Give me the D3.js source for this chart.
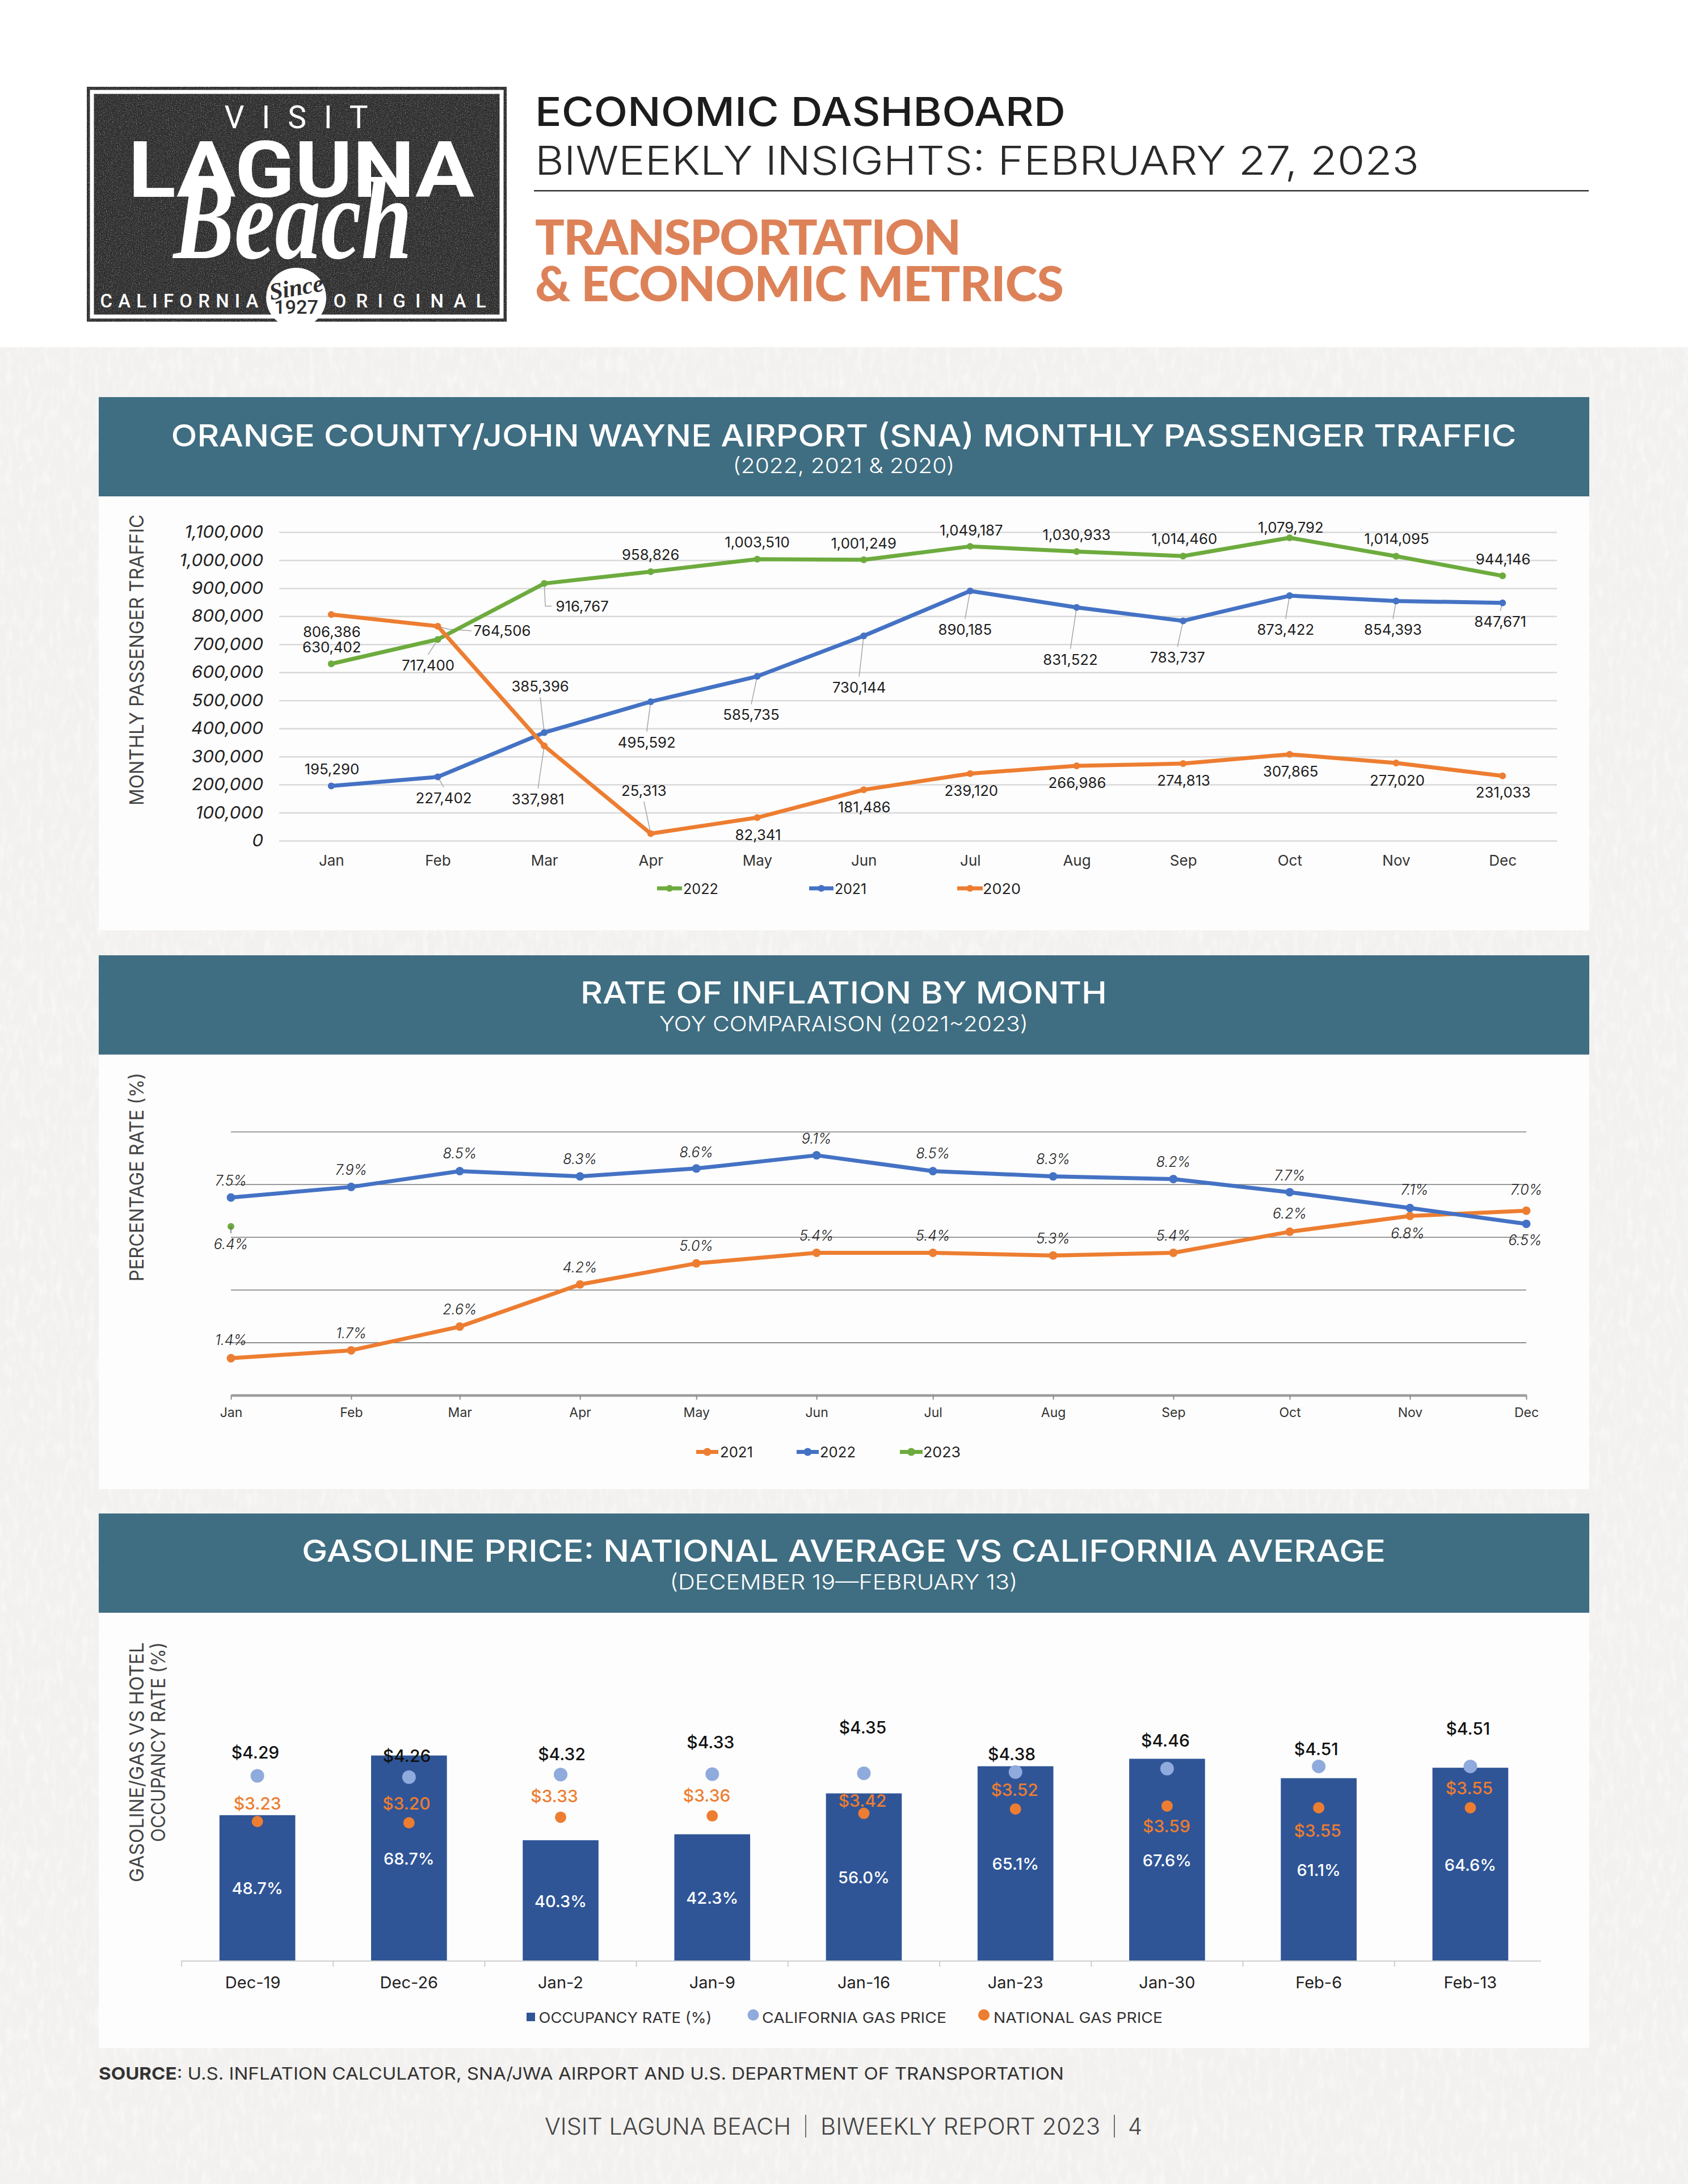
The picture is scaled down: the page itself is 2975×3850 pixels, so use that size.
<!DOCTYPE html>
<html><head><meta charset="utf-8">
<script src="https://cdn.jsdelivr.net/npm/d3@7"></script>
<style>html,body{margin:0;padding:0;background:#fff}svg{display:block}text{font-family:Inter,"Noto Sans",sans-serif}</style>
</head><body><div id="chart"></div>
<script>
// ---- Airport traffic ----
const months = ["Jan","Feb","Mar","Apr","May","Jun","Jul","Aug","Sep","Oct","Nov","Dec"];
const pax2022 = [630402,717400,916767,958826,1003510,1001249,1049187,1030933,1014460,1079792,1014095,944146];
const pax2021 = [195290,227402,385396,495592,585735,730144,890185,831522,783737,873422,854393,847671];
const pax2020 = [806386,764506,337981,25313,82341,181486,239120,266986,274813,307865,277020,231033];
const paxTicks = [0,100000,200000,300000,400000,500000,600000,700000,800000,900000,1000000,1100000];
// label offsets from the point: [dx, dy, leader] (leader 1 = straight, 2 = elbow)
const pax2022Lab = [[1,-29],[-17,46,1],[67,40,2],[0,-30],[0,-30],[0,-29],[2,-28],[0,-29],[2,-30],[2,-17.5],[1,-30],[1,-29.5]];
const pax2021Lab = [[1,-29],[10.5,37,1],[-7,-81,1],[-7,72,1],[-10.5,68,1],[-8,91,1],[-9,68,1],[-11,92,1],[-10,65,1],[-7,60,1],[-5.5,50.5,1],[-4,33,1]];
const pax2020Lab = [[1,31],[113.5,8,2],[-11,94,1],[-12,-75.5,1],[1.5,31],[1,31],[2,30],[1,30],[1,30],[2,30],[2,31],[1,29]];
// ---- Inflation ----
const cpiMonths = months.map((m,i)=>new Date(2021,i,1));
const cpi2021 = [1.4,1.7,2.6,4.2,5.0,5.4,5.4,5.3,5.4,6.2,6.8,7.0];
const cpi2022 = [7.5,7.9,8.5,8.3,8.6,9.1,8.5,8.3,8.2,7.7,7.1,6.5];
const cpi2023 = [6.4];
const cpiGrid = [2,4,6,8,10];
const cpi2021Lab = [[0,-32],[0,-30],[0,-31],[0,-30],[0,-31],[0,-30.5],[0,-30.5],[0,-30],[0,-30.5],[0,-32],[-4,31],[0,-37.5]];
const cpi2022Lab = [[0,-30],[0,-30],[0,-31],[0,-31],[0,-29],[0,-30],[0,-31],[0,-31],[0,-30],[0,-30],[8,-33],[-2,29]];
const cpi2023Lab = [[0,31]];
// ---- Gas / occupancy ----
const weeks = ["Dec-19","Dec-26","Jan-2","Jan-9","Jan-16","Jan-23","Jan-30","Feb-6","Feb-13"];
const occupancy = [48.7,68.7,40.3,42.3,56.0,65.1,67.6,61.1,64.6];
const gasCA = [4.29,4.26,4.32,4.33,4.35,4.38,4.46,4.51,4.51];
const gasUS = [3.23,3.20,3.33,3.36,3.42,3.52,3.59,3.55,3.55];
const gasCALab = [[-3.6,-41.6],[-3.8,-37.8],[2,-36],[-3,-56.5],[-2,-81],[-6.6,-31.7],[-3,-50],[-4.4,-31],[-4,-67]];
const gasUSLab = [[0,-32],[-4.4,-34],[-11,-37.4],[-9.7,-36],[-2.4,-22.6],[-1.6,-34],[-1,35],[-2,40],[-2,-35]];
const weekNudge = [-8,0,0,0,0,0,0,0,0];

const C = {green:"#6dab3e", blue:"#4472c4", orange:"#ed7d31", teal:"#3f6e82", bar:"#2f5597", ca:"#8faadc", ink:"#222"};
const svg = d3.select("#chart").append("svg").attr("width",2975).attr("height",3850).attr("viewBox","0 0 2975 3850");
const defs = svg.append("defs");
const f1 = defs.append("filter").attr("id","paper").attr("x",0).attr("y",0).attr("width","100%").attr("height","100%");
f1.append("feTurbulence").attr("type","fractalNoise").attr("baseFrequency","0.09 0.035").attr("numOctaves",3).attr("seed",4);
f1.append("feColorMatrix").attr("values","0 0 0 0 1  0 0 0 0 1  0 0 0 0 1  1.1 0 0 0 -0.5");
const f2 = defs.append("filter").attr("id","chalk").attr("x",0).attr("y",0).attr("width","100%").attr("height","100%");
f2.append("feTurbulence").attr("type","fractalNoise").attr("baseFrequency","0.55").attr("numOctaves",3).attr("seed",7);
f2.append("feColorMatrix").attr("values","0 0 0 0 1  0 0 0 0 1  0 0 0 0 1  0.6 0.6 0 0 -0.56");

function stretch(sel,k){
  sel.each(function(){
    const w=this.getComputedTextLength();
    d3.select(this).attr("textLength",w*k).attr("lengthAdjust","spacingAndGlyphs");
  });
}
function txt(g,x,y,s,o={}){
  const t=g.append("text").attr("x",x).attr("y",y).text(s)
    .attr("text-anchor",o.anchor||"middle").attr("font-size",o.size||24)
    .attr("font-weight",o.weight||400).attr("fill",o.fill||C.ink);
  if(o.central!==false) t.attr("dominant-baseline","central");
  if(o.italic) t.attr("font-style","italic");
  if(o.family) t.style("font-family",o.family);
  if(o.len) t.attr("textLength",o.len).attr("lengthAdjust",o.adjust||"spacingAndGlyphs");
  if(o.k) stretch(t,o.k);
  if(o.tf) t.attr("transform",o.tf);
  return t;
}
function rotTxt(g,x,y,s,o){ return txt(g,x,y,s,Object.assign({tf:`rotate(-90 ${x} ${y})`,fill:"#444",size:34,weight:400},o)); }

// page background
svg.append("rect").attr("width",2975).attr("height",3850).attr("fill","#fff");
svg.append("rect").attr("y",612).attr("width",2975).attr("height",3238).attr("fill","#f2f1ef");
svg.append("rect").attr("y",612).attr("width",2975).attr("height",3238).attr("filter","url(#paper)");

// logo
const logo = svg.append("g");
logo.append("rect").attr("x",153).attr("y",153).attr("width",740).attr("height",414).attr("fill","#2c2c2c");
logo.append("rect").attr("x",153).attr("y",153).attr("width",740).attr("height",414).attr("filter","url(#chalk)");
logo.append("rect").attr("x",162).attr("y",162).attr("width",722).attr("height",396).attr("fill","none").attr("stroke","#fff").attr("stroke-width",7);
const lg = {fill:"#fff",central:false,family:"Roboto"};
txt(logo,522,226,"VISIT",{...lg,size:55,weight:400,len:253,adjust:"spacing"});
txt(logo,531,347,"LAGUNA",{...lg,size:138,weight:700,len:610});
txt(logo,516,455,"Beach",{fill:"#fff",central:false,family:"'Liberation Serif'",italic:true,size:205,weight:700,len:421});
txt(logo,316,542,"CALIFORNIA",{...lg,size:33,weight:500,len:279,adjust:"spacing"});
txt(logo,722,542,"ORIGINAL",{...lg,size:33,weight:500,len:269,adjust:"spacing"});
logo.append("circle").attr("cx",522).attr("cy",525).attr("r",53).attr("fill","#fff");
txt(logo,522,507,"Since",{fill:"#2f2f2f",family:"'Liberation Serif'",italic:true,size:42,weight:700,tf:"rotate(-10 522 507)"});
txt(logo,522,541,"1927",{fill:"#2f2f2f",family:"Roboto",size:33,weight:500,len:78});

// page heading
const head = svg.append("g");
txt(head,943,222,"ECONOMIC DASHBOARD",{anchor:"start",central:false,size:70,weight:500,fill:"#1c1c1c",len:935});
txt(head,943,308,"BIWEEKLY INSIGHTS: FEBRUARY 27, 2023",{anchor:"start",central:false,size:70,weight:300,fill:"#2a2a2a",len:1558});
head.append("rect").attr("x",941).attr("y",335).attr("width",1859).attr("height",2.5).attr("fill","#333");
const heavy={anchor:"start",central:false,size:86,weight:900,fill:"#dd8258",family:"Lato",adjust:"spacing"};
txt(head,943,449,"TRANSPORTATION",{...heavy,len:751});
txt(head,943,531,"& ECONOMIC METRICS",{...heavy,len:932});

// section frames
[[700,1640,767,820,"ORANGE COUNTY/JOHN WAYNE AIRPORT (SNA) MONTHLY PASSENGER TRAFFIC",2371,"(2022, 2021 & 2020)",391],
 [1684,2625,1749,1804,"RATE OF INFLATION BY MONTH",928,"YOY COMPARAISON (2021~2023)",650],
 [2668,3610,2733,2788,"GASOLINE PRICE: NATIONAL AVERAGE VS CALIFORNIA AVERAGE",1910,"(DECEMBER 19—FEBRUARY 13)",613]
].forEach(([top,bot,ty,sy,t,tl,s,sl])=>{
  svg.append("rect").attr("x",174).attr("y",top).attr("width",2627).attr("height",bot-top).attr("fill","#fdfdfd");
  svg.append("rect").attr("x",174).attr("y",top).attr("width",2627).attr("height",175).attr("fill",C.teal);
  txt(svg,1487,ty,t,{size:54,weight:500,fill:"#fff",len:tl});
  txt(svg,1487,sy,s,{size:37,weight:300,fill:"#fff",len:sl});
});

function lineSeries(g,data,x,y,color,lw,r,xkey){
  const pts=data.map((v,i)=>({v,i,px:x(xkey[i]),py:y(v)}));
  const line=d3.line().x(d=>d.px).y(d=>d.py);
  g.append("path").datum(pts).attr("d",line).attr("fill","none").attr("stroke",color).attr("stroke-width",lw).attr("stroke-linejoin","round");
  g.selectAll(null).data(pts).join("circle").attr("cx",d=>d.px).attr("cy",d=>d.py).attr("r",r).attr("fill",color);
  return pts;
}
function legendLine(g,x0,x1,y,color,label,textX,textLen,r){
  g.append("line").attr("x1",x0).attr("x2",x1).attr("y1",y).attr("y2",y).attr("stroke",color).attr("stroke-width",7);
  g.append("circle").attr("cx",(x0+x1)/2).attr("cy",y).attr("r",r).attr("fill",color);
  txt(g,textX,y,label,{anchor:"start",size:26,len:textLen});
}

// ===== Chart 1 =====
{
  const g=svg.append("g");
  const x=d3.scalePoint().domain(months).range([490,2742]).padding(0.5);
  const y=d3.scaleLinear().domain([0,1100000]).range([1482,938]);
  const ax=g.append("g").attr("transform","translate(492,0)").call(d3.axisLeft(y).tickValues(paxTicks).tickSize(-2252).tickPadding(28).tickFormat(d3.format(",")));
  ax.select(".domain").remove();
  ax.selectAll("line").attr("stroke","#d9d9d9").attr("stroke-width",2.5);
  ax.selectAll("text").attr("font-size",30).attr("fill","#222").attr("font-style","italic").style("font-family","Inter").call(stretch,1.05);
  const bx=g.append("g").attr("transform","translate(0,1482)").call(d3.axisBottom(x).tickSize(0).tickPadding(26));
  bx.select(".domain").remove();
  bx.selectAll("text").attr("font-size",26).attr("fill","#333").style("font-family","Inter");
  rotTxt(g,240,1163.5,"MONTHLY PASSENGER TRAFFIC",{len:513});
  const leaders=g.append("g"), marks=g.append("g"), labels=g.append("g");
  [[pax2022,C.green,pax2022Lab],[pax2021,C.blue,pax2021Lab],[pax2020,C.orange,pax2020Lab]].forEach(([data,col,lab])=>{
    const pts=lineSeries(marks,data,x,y,col,7,6,months);
    pts.forEach(p=>{
      const [dx,dy,k]=lab[p.i], lx=p.px+dx, ly=p.py+dy;
      txt(labels,lx,ly,d3.format(",")(p.v),{size:25,fill:"#1c1c1c",k:1.03});
      if(k===1){
        leaders.append("path").attr("d",d3.line()([[p.px,p.py],[lx,ly-Math.sign(dy)*19]])).attr("stroke","#a6a6a6").attr("stroke-width",1.5).attr("fill","none");
      } else if(k===2){
        const tip=[lx-54,ly];
        const mid= Math.abs(dy)>20 ? [p.px+2,ly] : [p.px+18,p.py+5];
        leaders.append("path").attr("d",d3.line()([[p.px,p.py],mid,tip])).attr("stroke","#a6a6a6").attr("stroke-width",1.5).attr("fill","none");
      }
    });
  });
  legendLine(g,1158,1202,1566,C.green,"2022",1204,62,6);
  legendLine(g,1426,1469,1566,C.blue,"2021",1471,56,6);
  legendLine(g,1687,1732,1566,C.orange,"2020",1732,67,6);
}

// ===== Chart 2 =====
{
  const g=svg.append("g");
  const x=d3.scaleTime().domain([cpiMonths[0],cpiMonths[11]]).range([407,2690]);
  const y=d3.scaleLinear().domain([0,10]).range([2459.4,1994.8]);
  const gr=g.append("g").attr("transform","translate(407,0)").call(d3.axisLeft(y).tickValues(cpiGrid).tickSize(-2283).tickFormat(""));
  gr.select(".domain").remove();
  gr.selectAll("line").attr("stroke","#8c8c8c").attr("stroke-width",1.8);
  const bx=g.append("g").attr("transform","translate(0,2459.4)").call(d3.axisBottom(x).tickValues(cpiMonths).tickSize(8).tickSizeOuter(0).tickPadding(14).tickFormat(d3.timeFormat("%b")));
  bx.select(".domain").attr("stroke","#9c9c9c").attr("stroke-width",4.5);
  bx.selectAll("line").attr("stroke","#8c8c8c").attr("stroke-width",2);
  bx.selectAll("text").attr("font-size",23).attr("fill","#333").style("font-family","Inter");
  rotTxt(g,240,2075,"PERCENTAGE RATE (%)",{len:368});
  const marks=g.append("g"), labels=g.append("g");
  [[cpi2021,C.orange,cpi2021Lab],[cpi2022,C.blue,cpi2022Lab],[cpi2023,C.green,cpi2023Lab]].forEach(([data,col,lab])=>{
    const pts=lineSeries(marks,data,x,y,col,7,data.length===1?6:7.5,cpiMonths);
    pts.forEach(p=>{
      const [dx,dy]=lab[p.i];
      txt(labels,p.px+dx,p.py+dy,d3.format(".1f")(p.v)+"%",{size:25,italic:true,weight:300,fill:"#222"});
    });
    if(data.length===1) marks.append("line").attr("x1",pts[0].px).attr("x2",pts[0].px).attr("y1",pts[0].py).attr("y2",pts[0].py+12).attr("stroke","#666").attr("stroke-width",1.5);
  });
  legendLine(g,1227,1266,2559.5,C.orange,"2021",1269,58,7);
  legendLine(g,1404,1443,2559.5,C.blue,"2022",1445,63,7);
  legendLine(g,1586,1626,2559.5,C.green,"2023",1627,66,7);
}

// ===== Chart 3 =====
{
  const g=svg.append("g");
  const x=d3.scaleBand().domain(weeks).range([320,2725]).paddingInner(0.5).paddingOuter(0.25);
  const y=d3.scaleLinear().domain([0,100]).range([3456,2930]);
  const yGas=d3.scaleLinear().domain([0,7]).range([3456,2925]);
  const cx=w=>x(w)+x.bandwidth()/2;
  g.selectAll(null).data(occupancy).join("rect")
    .attr("x",(d,i)=>x(weeks[i])).attr("width",x.bandwidth()).attr("y",d=>y(d)).attr("height",d=>y(0)-y(d)).attr("fill",C.bar);
  g.append("line").attr("x1",319).attr("x2",2716).attr("y1",3457).attr("y2",3457).attr("stroke","#cfcfcf").attr("stroke-width",2);
  const edges=d3.range(0,9).map(i=>320+i*x.step());
  g.selectAll(null).data(edges).join("line").attr("x1",d=>d).attr("x2",d=>d).attr("y1",3457).attr("y2",3467).attr("stroke","#cfcfcf").attr("stroke-width",2);
  const bx=g.append("g").attr("transform","translate(0,3457)").call(d3.axisBottom(x).tickSize(0).tickPadding(27));
  bx.select(".domain").remove();
  bx.selectAll("text").attr("font-size",29).attr("fill","#222").style("font-family","Inter").attr("dx",(d,i)=>weekNudge[i]);
  rotTxt(g,240.5,3106.5,"GASOLINE/GAS VS HOTEL",{len:423});
  rotTxt(g,278,3071,"OCCUPANCY RATE (%)",{len:352});
  weeks.forEach((w,i)=>{
    const c=cx(w);
    txt(g,c,(y(occupancy[i])+y(0))/2+1,occupancy[i].toFixed(1)+"%",{size:29,weight:500,fill:"#fff"});
    g.append("circle").attr("cx",c).attr("cy",yGas(gasCA[i])).attr("r",12).attr("fill",C.ca);
    g.append("circle").attr("cx",c).attr("cy",yGas(gasUS[i])).attr("r",10).attr("fill",C.orange);
    txt(g,c+gasCALab[i][0],yGas(gasCA[i])+gasCALab[i][1],"$"+gasCA[i].toFixed(2),{size:30,weight:500,fill:"#111"});
    txt(g,c+gasUSLab[i][0],yGas(gasUS[i])+gasUSLab[i][1],"$"+gasUS[i].toFixed(2),{size:30,weight:500,fill:C.orange});
  });
  g.append("rect").attr("x",928).attr("y",3548).attr("width",15).attr("height",15).attr("fill",C.bar);
  txt(g,949.5,3556.6,"OCCUPANCY RATE (%)",{anchor:"start",size:26,len:305,fill:"#333"});
  g.append("circle").attr("cx",1327.5).attr("cy",3552).attr("r",10).attr("fill",C.ca);
  txt(g,1343,3556.6,"CALIFORNIA GAS PRICE",{anchor:"start",size:26,len:325,fill:"#333"});
  g.append("circle").attr("cx",1734).attr("cy",3552).attr("r",10).attr("fill",C.orange);
  txt(g,1751,3556.6,"NATIONAL GAS PRICE",{anchor:"start",size:26,len:298,fill:"#333"});
}

// source and footer
const src=txt(svg,174,3655,"",{anchor:"start",size:30,fill:"#333",len:1701});
src.append("tspan").attr("font-weight",700).text("SOURCE");
src.append("tspan").text(": U.S. INFLATION CALCULATOR, SNA/JWA AIRPORT AND U.S. DEPARTMENT OF TRANSPORTATION");
const foot={size:41,weight:300,fill:"#444"};
txt(svg,960,3748,"VISIT LAGUNA BEACH",{...foot,anchor:"start",len:434});
svg.append("line").attr("x1",1420).attr("x2",1420).attr("y1",3728).attr("y2",3768).attr("stroke","#444").attr("stroke-width",1.5);
txt(svg,1446,3748,"BIWEEKLY REPORT 2023",{...foot,anchor:"start",len:493});
svg.append("line").attr("x1",1964).attr("x2",1964).attr("y1",3728).attr("y2",3768).attr("stroke","#444").attr("stroke-width",1.5);
txt(svg,1988,3748,"4",{...foot,anchor:"start",len:25});
</script></body></html>
